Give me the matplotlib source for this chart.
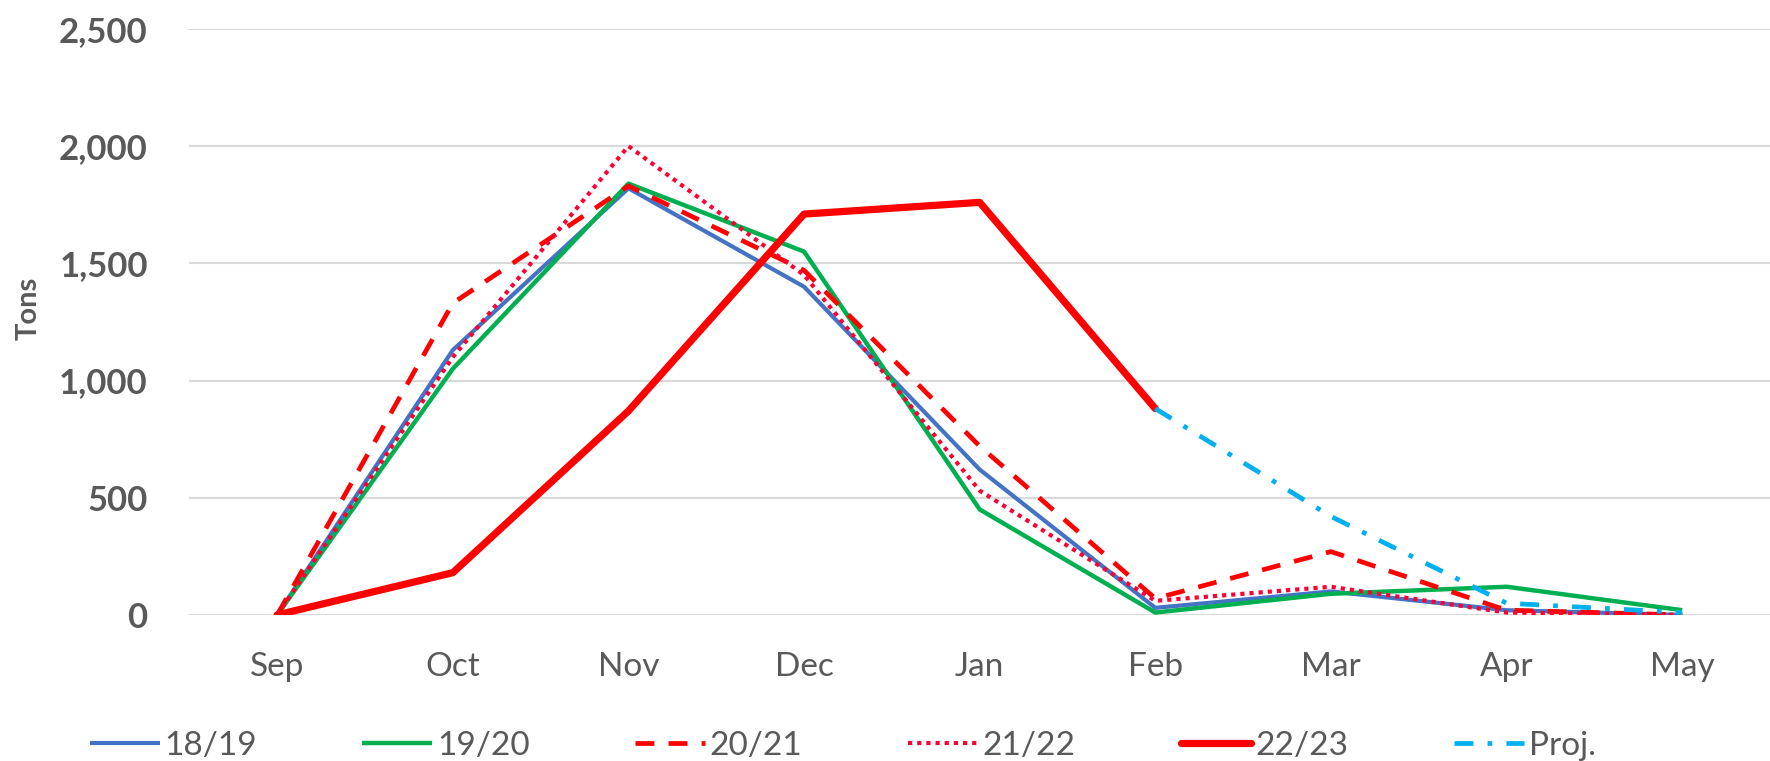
import matplotlib
matplotlib.use("Agg")
import matplotlib.pyplot as plt
from matplotlib.ticker import FuncFormatter

plt.rcParams['font.family'] = ['Lato', 'DejaVu Sans']

months = ["Sep", "Oct", "Nov", "Dec", "Jan", "Feb", "Mar", "Apr", "May"]
s1819 = [0, 1130, 1820, 1400, 620, 30, 100, 20, 0]
s1920 = [0, 1050, 1840, 1550, 450, 10, 90, 120, 20]
s2021 = [0, 1330, 1830, 1470, 720, 70, 270, 20, 0]
s2122 = [0, 1100, 2000, 1450, 530, 60, 120, 10, 0]
s2223 = [0, 180, 870, 1710, 1760, 880]
proj_months = ["Feb", "Mar", "Apr", "May"]
proj = [880, 420, 50, 10]
yticks = [0, 500, 1000, 1500, 2000, 2500]

fig = plt.figure(figsize=(17.70, 7.61), dpi=100)
ax = fig.add_axes([0.107, 0.192, 0.893, 0.770])

x = list(range(len(months)))
xp = [months.index(m) for m in proj_months]

ax.plot(x, s1819, color="#4472C4", lw=3.0, label="18/19", solid_capstyle="butt")
ax.plot(x, s1920, color="#00B050", lw=3.2, label="19/20", solid_capstyle="butt")
ax.plot(x, s2021, color="#FF0000", lw=3.4, label="20/21", linestyle=(0, (4, 3)), dash_capstyle="butt")
ax.plot(x, s2122, color="#FF0033", lw=3.0, label="21/22", linestyle=(0, (1, 1.2)), dash_capstyle="butt")
ax.plot(x[:len(s2223)], s2223, color="#FF0000", lw=5.2, label="22/23", solid_capstyle="round")
ax.plot(xp, proj, color="#00B0F0", lw=3.4, label="Proj.", linestyle=(0, (4, 3, 1, 3)), dash_capstyle="butt")

ax.set_xlim(-0.5, len(months) - 0.5)
ax.set_ylim(0, 2500)
ax.set_xticks(x)
ax.set_xticklabels(months)
ax.set_yticks(yticks)
ax.yaxis.set_major_formatter(FuncFormatter(lambda v, p: f"{int(v):,}"))

for s in ax.spines.values():
    s.set_visible(False)
ax.grid(axis="y", color="#D9D9D9", lw=1.5)
ax.set_axisbelow(True)
ax.tick_params(axis="both", length=0)
ax.tick_params(axis="x", pad=27, labelsize=24, labelcolor="#595959")
ax.tick_params(axis="y", pad=30, labelsize=25, labelcolor="#595959")
for t in ax.get_yticklabels():
    t.set_fontweight("bold")

fig.text(0.016, 0.595, "Tons", rotation=90, ha="center", va="center",
         fontsize=21, fontweight="bold", color="#595959")

leg = fig.legend(loc="center", bbox_to_anchor=(0.476, 0.020), ncol=6, frameon=False,
                 fontsize=24, handlelength=2.1, handletextpad=0.15, columnspacing=3.15,
                 labelcolor="#595959")

fig.savefig("out.png", dpi=100)
